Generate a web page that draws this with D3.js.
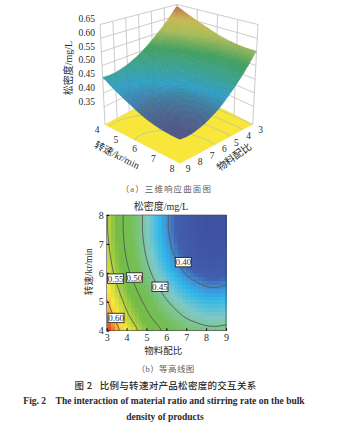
<!DOCTYPE html>
<html>
<head>
<meta charset="utf-8">
<script src="https://cdn.jsdelivr.net/npm/d3@7/dist/d3.min.js"></script>
<style>
  body { margin: 0; background: #fff; }
  text { font-family: "Liberation Serif", "Noto Sans CJK SC", serif; fill: #2b2b2b; }
  .cjk { font-family: "Noto Sans CJK SC", sans-serif; }
</style>
</head>
<body>
<div id="chart"></div>
<script>
var ratios = [3, 3.5, 4, 4.5, 5, 5.5, 6, 6.5, 7, 7.5, 8, 8.5, 9];
var speeds = [4, 4.5, 5, 5.5, 6, 6.5, 7, 7.5, 8];
var density = [
    [.641, .609, .579, .553, .530, .509, .492, .479, .468, .461, .456, .455, .457],
    [.620, .588, .558, .532, .509, .488, .471, .458, .447, .440, .435, .434, .436],
    [.602, .570, .540, .514, .491, .470, .453, .440, .429, .422, .417, .416, .418],
    [.586, .554, .524, .498, .475, .454, .437, .424, .413, .406, .401, .400, .402],
    [.571, .539, .509, .483, .460, .439, .422, .409, .398, .391, .386, .385, .387],
    [.561, .529, .499, .473, .450, .429, .412, .399, .388, .381, .376, .375, .377],
    [.555, .523, .493, .467, .444, .423, .406, .393, .382, .375, .370, .369, .371],
    [.552, .520, .490, .464, .441, .420, .403, .390, .379, .372, .367, .366, .368],
    [.552, .520, .490, .464, .441, .420, .403, .390, .379, .372, .367, .366, .368]
];
var contourLevels = [0.40, 0.45, 0.50, 0.55, 0.60];
var ratioTicks = [3, 4, 5, 6, 7, 8, 9];
var speedTicks = [4, 5, 6, 7, 8];
var densityTicks = [0.35, 0.40, 0.45, 0.50, 0.55, 0.60, 0.65];

var svg = d3.select("#chart").append("svg").attr("width", 353).attr("height", 425).style("display", "block");

// Smooth lookup between the table entries, only used for drawing
function cr(p0, p1, p2, p3, t) {
    return p1 + 0.5 * t * (p2 - p0 + t * (2 * p0 - 5 * p1 + 4 * p2 - p3 + t * (3 * (p1 - p2) + p3 - p0)));
}
function lookup(r, s) {
    var u = (r - 3) * 2, v = (s - 4) * 2;
    var iu = Math.min(Math.floor(u), ratios.length - 2), iv = Math.min(Math.floor(v), speeds.length - 2);
    var rows = [];
    for (var j = -1; j <= 2; j++) {
        var row = density[Math.max(0, Math.min(speeds.length - 1, iv + j))];
        var c = k => row[Math.max(0, Math.min(ratios.length - 1, iu + k))];
        rows.push(cr(c(-1), c(0), c(1), c(2), u - iu));
    }
    return cr(rows[0], rows[1], rows[2], rows[3], v - iv);
}

// Contour lines, cut where d3.contours runs along the edge of the grid
var nx = 61, ny = 41;
var gridX = d3.scaleLinear().domain([0.5, nx - 0.5]).range([3, 9]);
var gridY = d3.scaleLinear().domain([0.5, ny - 0.5]).range([4, 8]);
var gridValues = [];
for (var j = 0; j < ny; j++) {
    for (var i = 0; i < nx; i++) gridValues.push(lookup(gridX(i + 0.5), gridY(j + 0.5)));
}
var contourPieces = [];
d3.contours().size([nx, ny]).thresholds(contourLevels)(gridValues).forEach(function(c) {
    c.coordinates.forEach(function(poly) {
        poly.forEach(function(ring) {
            var piece = [];
            ring.forEach(function(p) {
                var inside = p[0] >= 0.5 && p[0] <= nx - 0.5 && p[1] >= 0.5 && p[1] <= ny - 0.5;
                if (inside) piece.push([gridX(p[0]), gridY(p[1])]);
                else { if (piece.length > 1) contourPieces.push(piece); piece = []; }
            });
            if (piece.length > 1) contourPieces.push(piece);
        });
    });
});

// ---------- (a) surface ----------
var toU = d3.scaleLinear().domain([3, 9]).range([0, 1]);
var toV = d3.scaleLinear().domain([4, 8]).range([0, 1]);
var toT = d3.scaleLinear().domain([0.285, 0.65]).range([0, 1]);
// corners of the box on screen: [back (3,4), left (9,4), front (9,8), right (3,8)]
var floorBox = [[177.7, 85.7], [105, 124.6], [180, 163.3], [252.7, 124.3]];
var topBox = [[177, 4.5], [100, 24.5], [179, 58], [258, 24.5]];

function corner(box, u, v) {
    var k = d => (1 - u) * (1 - v) * box[0][d] + u * (1 - v) * box[1][d] + u * v * box[2][d] + (1 - u) * v * box[3][d];
    return [k(0), k(1)];
}
function project(r, s, z) {
    var a = corner(floorBox, toU(r), toV(s)), b = corner(topBox, toU(r), toV(s)), t = toT(z);
    return [a[0] + (b[0] - a[0]) * t, a[1] + (b[1] - a[1]) * t];
}

var surfaceColor = d3.scaleLinear()
    .domain([0.366, 0.40, 0.43, 0.47, 0.51, 0.56, 0.60, 0.65])
    .range(["#4b5590", "#3d78a8", "#2b9fc4", "#37a08c", "#3f9f5e", "#a8bd55", "#c9b84f", "#bd5f45"]);

var walls = svg.append("g").attr("fill", "none").attr("stroke", "#c6c6c6").attr("stroke-width", 0.9);
var wallPath = d3.line();
densityTicks.forEach(function(z) {
    walls.append("path").attr("d", wallPath([project(9, 4, z), project(3, 4, z), project(3, 8, z)]));
});
ratioTicks.forEach(function(r) {
    walls.append("path").attr("d", wallPath([project(r, 4, 0.285), project(r, 4, 0.65)]));
});
speedTicks.forEach(function(s) {
    walls.append("path").attr("d", wallPath([project(3, s, 0.285), project(3, s, 0.65)]));
});

// yellow floor with the contours projected on it
svg.append("path").attr("fill", "#f8e73a").attr("stroke", "#e9dc50").attr("stroke-width", 0.5)
    .attr("d", wallPath(floorBox) + "Z");
svg.append("g").selectAll("path").data(contourPieces).enter().append("path")
    .attr("fill", "none").attr("stroke", "#bcc992").attr("stroke-width", 0.9)
    .attr("d", d => wallPath(d.map(p => project(p[0], p[1], 0.285))));

// surface quads, painted from the back corner to the front one
var quads = [];
var stepsX = 60, stepsY = 40;
var stepR = d3.scaleLinear().domain([0, stepsX]).range([3, 9]);
var stepS = d3.scaleLinear().domain([0, stepsY]).range([4, 8]);
for (var a = 0; a < stepsX; a++) {
    for (var b = 0; b < stepsY; b++) {
        var r0 = stepR(a), r1 = stepR(a + 1), s0 = stepS(b), s1 = stepS(b + 1);
        quads.push({
            order: a + b,
            z: lookup((r0 + r1) / 2, (s0 + s1) / 2),
            pts: [[r0, s0], [r1, s0], [r1, s1], [r0, s1]].map(p => project(p[0], p[1], lookup(p[0], p[1])))
        });
    }
}
quads.sort((p, q) => p.order - q.order);
svg.append("g").selectAll("path").data(quads).enter().append("path")
    .attr("d", d => wallPath(d.pts) + "Z")
    .attr("fill", d => surfaceColor(d.z))
    .attr("stroke", d => d3.color(surfaceColor(d.z)).darker(0.12))
    .attr("stroke-width", 0.4);

// 3D axis labels
var axes3d = svg.append("g").attr("font-size", 9.5).attr("text-anchor", "middle");
densityTicks.forEach(function(z) {
    axes3d.append("text").attr("x", 95).attr("y", project(9, 4, z)[1] - 5.5).attr("dy", "0.35em")
        .attr("text-anchor", "end").text(z.toFixed(2));
});
speedTicks.forEach(function(s) {
    var p = project(9, s, 0.285);
    axes3d.append("text").attr("x", p[0] - 8).attr("y", p[1] + 5).attr("dy", "0.35em").text(s);
});
ratioTicks.forEach(function(r) {
    var p = project(r, 8, 0.285);
    axes3d.append("text").attr("x", p[0] + 8).attr("y", p[1] + 5).attr("dy", "0.35em").text(r);
});
axes3d.append("text").attr("transform", "translate(68,68) rotate(-90)").attr("dy", "0.35em").attr("font-size", 10).text("松密度/mg/L");
axes3d.append("text").attr("transform", "translate(117,155) rotate(27)").attr("dy", "0.35em").attr("font-size", 10).text("转速/kr/min");
axes3d.append("text").attr("transform", "translate(234,157) rotate(-36)").attr("dy", "0.35em").attr("font-size", 10).text("物料配比");

// ---------- (b) contour plot ----------
var x = d3.scaleLinear().domain([3, 9]).range([106.7, 226]);
var y = d3.scaleLinear().domain([4, 8]).range([330.7, 215]);
var heatColor = d3.scaleLinear()
    .domain([0.366, 0.39, 0.40, 0.412, 0.435, 0.455, 0.48, 0.52, 0.555, 0.585, 0.61, 0.64])
    .range(["#3f52a2", "#4160ad", "#3d8fd6", "#2fb6e8", "#7fc8c8", "#7cc58c", "#74be55", "#74bc48", "#bcd63f", "#f7e93c", "#f9a832", "#ea3323"]);

var cellsX = 30, cellsY = 30;
var cellR = d3.scaleLinear().domain([0, cellsX]).range([3, 9]);
var cellS = d3.scaleLinear().domain([0, cellsY]).range([4, 8]);
var cells = d3.cross(d3.range(cellsX), d3.range(cellsY));
svg.append("g").attr("shape-rendering", "crispEdges").selectAll("rect").data(cells).enter().append("rect")
    .attr("x", d => x(cellR(d[0])))
    .attr("y", d => y(cellS(d[1] + 1)))
    .attr("width", (x(9) - x(3)) / cellsX + 0.6)
    .attr("height", (y(4) - y(8)) / cellsY + 0.6)
    .attr("fill", d => heatColor(lookup(cellR(d[0] + 0.5), cellS(d[1] + 0.5))));

var line2d = d3.line().x(d => x(d[0])).y(d => y(d[1]));
svg.append("g").selectAll("path").data(contourPieces).enter().append("path")
    .attr("fill", "none").attr("stroke", "#555").attr("stroke-width", 0.9)
    .attr("d", line2d);

svg.append("rect").attr("x", x(3)).attr("y", y(8)).attr("width", x(9) - x(3)).attr("height", y(4) - y(8))
    .attr("fill", "none").attr("stroke", "#444").attr("stroke-width", 0.6);

var xAxis = d3.axisBottom(x).tickValues(ratioTicks).tickFormat(d3.format("d")).tickSize(-2.5).tickPadding(3);
var yAxis = d3.axisLeft(y).tickValues(speedTicks).tickFormat(d3.format("d")).tickSize(-2.5).tickPadding(3);
svg.append("g").attr("transform", "translate(0," + y(4) + ")").call(xAxis)
    .call(g => g.select(".domain").remove())
    .call(g => g.selectAll("text").attr("font-size", 10).attr("font-family", null));
svg.append("g").attr("transform", "translate(" + x(3) + ",0)").call(yAxis)
    .call(g => g.select(".domain").remove())
    .call(g => g.selectAll("text").attr("font-size", 10).attr("font-family", null));

// contour labels, placed in data units
var labelRatio = [6.85, 5.68, 4.39, 3.45, 3.47];
var labelSpeed = [6.37, 5.52, 5.84, 5.8, 4.44];
contourLevels.forEach(function(level, i) {
    var g = svg.append("g").attr("transform", "translate(" + x(labelRatio[i]) + "," + y(labelSpeed[i]) + ")");
    g.append("rect").attr("x", -8).attr("y", -4.7).attr("width", 16).attr("height", 9.4)
        .attr("fill", "#fff").attr("stroke", "#222").attr("stroke-width", 0.9);
    g.append("text").attr("text-anchor", "middle").attr("dy", "0.35em").attr("font-size", 9).text(level.toFixed(2));
});

svg.append("text").attr("x", 161).attr("y", 206).attr("dy", "0.35em").attr("text-anchor", "middle").attr("font-size", 10).text("松密度/mg/L");
svg.append("text").attr("x", 163.3).attr("y", 350.7).attr("dy", "0.35em").attr("text-anchor", "middle").attr("font-size", 9.5).text("物料配比");
svg.append("text").attr("transform", "translate(89,271.7) rotate(-90)").attr("dy", "0.35em").attr("text-anchor", "middle").attr("font-size", 9.5).text("转速/kr/min");

// ---------- captions ----------
var captions = svg.append("g").attr("text-anchor", "middle");
captions.append("text").attr("x", 166.4).attr("y", 188.7).attr("dy", "0.35em").attr("font-size", 8.5).attr("letter-spacing", 1.1).attr("fill-opacity", 0.8).text("（a）三维响应曲面图");
captions.append("text").attr("x", 165.7).attr("y", 369).attr("dy", "0.35em").attr("font-size", 8.5).attr("letter-spacing", 0.4).attr("fill-opacity", 0.8).text("（b）等高线图");
captions.append("text").attr("class", "cjk").attr("x", 165.5).attr("y", 385.7).attr("dy", "0.35em").attr("font-size", 9.5).attr("letter-spacing", 0.3).attr("font-weight", 500).text("图 2\u00a0\u00a0\u00a0比例与转速对产品松密度的交互关系");
captions.append("text").attr("x", 164).attr("y", 401).attr("dy", "0.35em").attr("font-size", 9.5).attr("font-weight", 700).text("Fig. 2\u00a0\u00a0\u00a0\u00a0The interaction of material ratio and stirring rate on the bulk");
captions.append("text").attr("x", 165).attr("y", 416.7).attr("dy", "0.35em").attr("font-size", 9.5).attr("font-weight", 700).text("density of products");
</script>
</body>
</html>
